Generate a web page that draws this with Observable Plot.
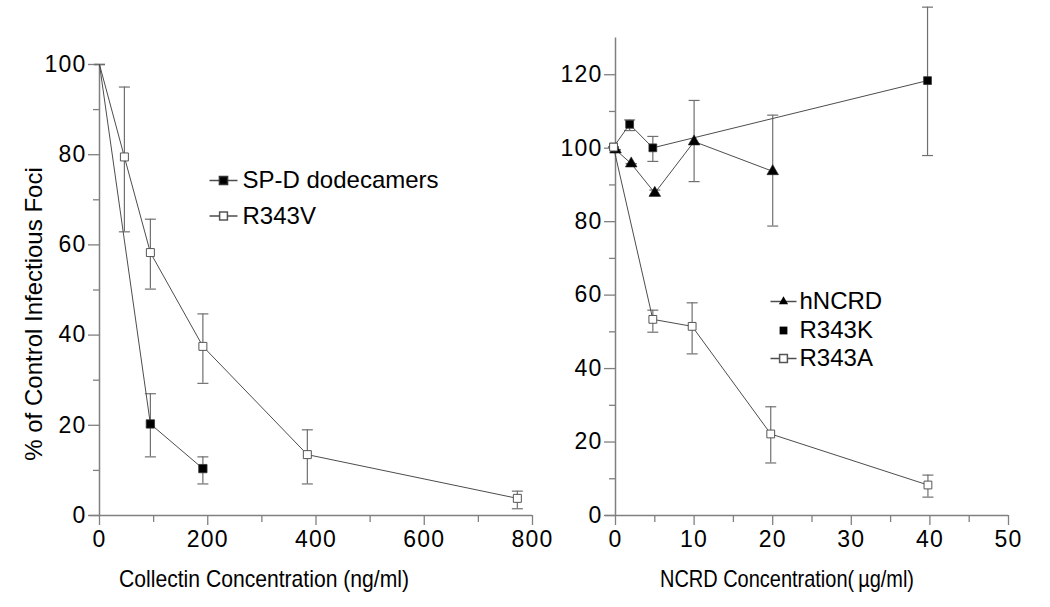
<!DOCTYPE html>
<html><head><meta charset="utf-8">
<script src="https://cdn.jsdelivr.net/npm/d3@7"></script>
<script src="https://cdn.jsdelivr.net/npm/@observablehq/plot@0.6"></script>
<style>
body{margin:0;background:#fff}
#wrap{position:relative;width:1050px;height:607px;background:#fff;overflow:hidden}
#left,#right{position:absolute;top:0}
#left{left:0}
#right{left:560px}
svg{font-family:"Liberation Sans",Arial,sans-serif}
g[aria-label$="tick label"] text{letter-spacing:1.2px}
</style></head><body>
<div id="wrap"><div id="left"></div><div id="right"></div></div>
<script>
// ---- Left panel data (Collectin, ng/ml) ----
const spdX  = [0, 94, 191];
const spdY  = [100, 20.3, 10.4];
const spdLo = [100, 13.0, 7.0];
const spdHi = [100, 27.0, 13.0];

const r343vX  = [0, 46, 94, 191, 384, 772];
const r343vY  = [100, 79.5, 58.3, 37.5, 13.5, 3.8];
const r343vLo = [100, 62.9, 50.2, 29.3, 7.0, 1.5];
const r343vHi = [100, 95.0, 65.7, 44.7, 19.0, 5.4];

// ---- Right panel data (NCRD, µg/ml) ----
const hncrdX  = [0, 2, 5, 10, 20];
const hncrdY  = [99.6, 95.8, 87.8, 101.8, 93.7];
const hncrdLo = [99.6, 95.8, 87.0, 90.9, 78.8];
const hncrdHi = [99.6, 95.8, 88.6, 113.0, 109.0];

const r343kX  = [-0.25, 1.8, 4.75, 39.7];
const r343kY  = [100.3, 106.5, 100.1, 118.4];
const r343kLo = [100.3, 104.8, 96.4, 98.0];
const r343kHi = [100.3, 107.7, 103.2, 138.4];

const r343aX  = [-0.25, 4.75, 9.75, 19.75, 39.75];
const r343aY  = [100.3, 53.4, 51.5, 22.2, 8.3];
const r343aLo = [100.3, 49.9, 44.0, 14.3, 5.0];
const r343aHi = [100.3, 55.9, 57.9, 29.6, 11.0];

// ---- Axis ticks and labels ----
const xTicksL = [0, 200, 400, 600, 800];
const xMinorL = [100, 300, 500, 700];
const yTicksL = [0, 20, 40, 60, 80, 100];
const yMinorL = [10, 30, 50, 70, 90];
const xTicksR = [0, 10, 20, 30, 40, 50];
const xMinorR = [5, 15, 25, 35, 45];
const yTicksR = [0, 20, 40, 60, 80, 100, 120];
const yMinorR = [10, 30, 50, 70, 90, 110];

const yTitle = "% of Control Infectious Foci";
const xTitleL = "Collectin Concentration (ng/ml)";
const xTitleR = "NCRD Concentration(\u2009\u00b5g/ml)";
const legendL = ["SP-D dodecamers", "R343V"];
const legendR = ["hNCRD", "R343K", "R343A"];

// ---- helpers ----
const rows = (X, Y, Lo, Hi) => X.map((x, i) => ({x, y: Y[i], lo: Lo[i], hi: Hi[i]}));
const capSym = {draw(ctx) { ctx.moveTo(-5.5, 0); ctx.lineTo(5.5, 0); }};
const legLineL = {draw(ctx) { ctx.moveTo(-14, 0); ctx.lineTo(14, 0); }};
const legLineR = {draw(ctx) { ctx.moveTo(-13, 0); ctx.lineTo(13, 0); }};
const AX = "#808080", LN = "#4d4d4d", ER = "#707070";
const FONT = '"Liberation Sans",Arial,sans-serif';

function errMarks(d) {
  return [
    Plot.ruleX(d, {x: "x", y1: "lo", y2: "hi", stroke: ER, strokeWidth: 1.2}),
    Plot.dot(d, {x: "x", y: "lo", symbol: capSym, r: 3, stroke: ER, strokeWidth: 1.2, fill: "none"}),
    Plot.dot(d, {x: "x", y: "hi", symbol: capSym, r: 3, stroke: ER, strokeWidth: 1.2, fill: "none"})
  ];
}
function axes(xT, xM, yT, yM) {
  return [
    Plot.axisX({ticks: xT, tickSize: 10, tickPadding: 5, stroke: AX, strokeWidth: 1.3, fill: "#000", fontSize: 23, label: null}),
    Plot.axisX({ticks: xM, tickSize: 7, tickFormat: () => "", stroke: AX, strokeWidth: 1.3, label: null}),
    Plot.axisY({ticks: yT, tickSize: 11, tickPadding: 2, stroke: AX, strokeWidth: 1.3, fill: "#000", fontSize: 23, label: null}),
    Plot.axisY({ticks: yM, tickSize: 6, tickFormat: () => "", stroke: AX, strokeWidth: 1.3, label: null})
  ];
}
const legendText = (label, dx, dy) =>
  Plot.text([label], {text: d => d, frameAnchor: "top-left", dx, dy, textAnchor: "start", lineAnchor: "middle", fontSize: 24, fill: "#000"});

// ---- Left plot ----
const spd = rows(spdX, spdY, spdLo, spdHi);
const r343v = rows(r343vX, r343vY, r343vLo, r343vHi);
const left = Plot.plot({
  width: 560, height: 607,
  marginLeft: 99, marginRight: 28, marginTop: 64, marginBottom: 92,
  x: {domain: [0, 800]}, y: {domain: [0, 100]},
  style: {fontFamily: FONT, fontSize: "22px", background: "transparent", overflow: "visible"},
  marks: [
    ...axes(xTicksL, xMinorL, yTicksL, yMinorL),
    Plot.ruleX([0], {y1: 0, y2: 100, stroke: AX, strokeWidth: 1.5}),
    Plot.ruleY([0], {x1: -18, x2: 800, stroke: AX, strokeWidth: 1.5}),
    ...errMarks(r343v), ...errMarks(spd),
    Plot.line(r343v, {x: "x", y: "y", stroke: LN, strokeWidth: 1}),
    Plot.line(spd, {x: "x", y: "y", stroke: LN, strokeWidth: 1}),
    Plot.dot(spd.filter(d => d.x > 0), {x: "x", y: "y", symbol: "square", r: 4.7, fill: "#000", stroke: "#333", strokeWidth: 0.8}),
    Plot.dot(r343v.filter(d => d.x > 0), {x: "x", y: "y", symbol: "square", r: 4.5, fill: "#fff", stroke: "#555", strokeWidth: 1}),
    // legend
    Plot.dot([0], {frameAnchor: "top-left", dx: 124, dy: 116, symbol: legLineL, r: 3, stroke: LN, fill: "none"}),
    Plot.dot([0], {frameAnchor: "top-left", dx: 124, dy: 116, symbol: "square", r: 4.6, fill: "#000", stroke: "#333"}),
    Plot.dot([0], {frameAnchor: "top-left", dx: 124, dy: 151.5, symbol: legLineL, r: 3, stroke: LN, fill: "none"}),
    Plot.dot([0], {frameAnchor: "top-left", dx: 124, dy: 151.5, symbol: "square", r: 4.4, fill: "#fff", stroke: "#555"}),
    legendText(legendL[0], 143, 116),
    legendText(legendL[1], 143, 151.5),
    // titles
    Plot.text([yTitle], {text: d => d, frameAnchor: "left", rotate: -90, dx: -65, dy: 24, textAnchor: "middle", lineAnchor: "middle", fontSize: 24, fill: "#000"}),
    Plot.text([xTitleL], {text: d => d, frameAnchor: "bottom", dx: -52, dy: 64, textAnchor: "middle", lineAnchor: "middle", fontSize: 24, fill: "#000"})
  ]
});
document.getElementById("left").append(left);

// ---- Right plot ----
const hncrd = rows(hncrdX, hncrdY, hncrdLo, hncrdHi);
const r343k = rows(r343kX, r343kY, r343kLo, r343kHi);
const r343a = rows(r343aX, r343aY, r343aLo, r343aHi);
const right = Plot.plot({
  width: 490, height: 607,
  marginLeft: 55, marginRight: 42, marginTop: 37.5, marginBottom: 92,
  x: {domain: [0, 50]}, y: {domain: [0, 130]},
  style: {fontFamily: FONT, fontSize: "22px", background: "transparent", overflow: "visible"},
  marks: [
    ...axes(xTicksR, xMinorR, yTicksR, yMinorR),
    Plot.ruleX([0], {y1: 0, y2: 130, stroke: AX, strokeWidth: 1.5}),
    Plot.ruleY([0], {x1: -1.3, x2: 50, stroke: AX, strokeWidth: 1.5}),
    ...errMarks(r343a), ...errMarks(r343k), ...errMarks(hncrd),
    Plot.line(r343a, {x: "x", y: "y", stroke: LN, strokeWidth: 1}),
    Plot.line(r343k, {x: "x", y: "y", stroke: LN, strokeWidth: 1}),
    Plot.line(hncrd, {x: "x", y: "y", stroke: LN, strokeWidth: 1}),
    Plot.dot(r343k, {x: "x", y: "y", symbol: "square", r: 4.4, fill: "#000", stroke: "#333", strokeWidth: 0.8}),
    Plot.dot(hncrd, {x: "x", y: "y", symbol: "triangle", r: 4.3, fill: "#000", stroke: "#222", strokeWidth: 0.6}),
    Plot.dot(r343a, {x: "x", y: "y", symbol: "square", r: 4.4, fill: "#fff", stroke: "#555", strokeWidth: 1}),
    // legend
    Plot.dot([0], {frameAnchor: "top-left", dx: 168, dy: 263.5, symbol: legLineR, r: 3, stroke: LN, fill: "none"}),
    Plot.dot([0], {frameAnchor: "top-left", dx: 168, dy: 263.5, symbol: "triangle", r: 3.4, fill: "#000"}),
    Plot.dot([0], {frameAnchor: "top-left", dx: 168, dy: 292.5, symbol: "square", r: 4.4, fill: "#000"}),
    Plot.dot([0], {frameAnchor: "top-left", dx: 168, dy: 320.5, symbol: legLineR, r: 3, stroke: LN, fill: "none"}),
    Plot.dot([0], {frameAnchor: "top-left", dx: 168, dy: 320.5, symbol: "square", r: 4.4, fill: "#fff", stroke: "#555"}),
    legendText(legendR[0], 184, 263.5),
    legendText(legendR[1], 184, 292.5),
    legendText(legendR[2], 184, 320.5),
    Plot.text([xTitleR], {text: d => d, frameAnchor: "bottom", dx: -25, dy: 64, textAnchor: "middle", lineAnchor: "middle", fontSize: 24, fill: "#000"})
  ]
});
document.getElementById("right").append(right);

// condensed axis titles (the reference uses a narrow face)
d3.selectAll("#wrap svg text").each(function () {
  const t = this.textContent;
  if (t === xTitleL) d3.select(this).attr("textLength", 290).attr("lengthAdjust", "spacingAndGlyphs");
  if (t === xTitleR) d3.select(this).attr("textLength", 254).attr("lengthAdjust", "spacingAndGlyphs");
});
</script></body></html>
